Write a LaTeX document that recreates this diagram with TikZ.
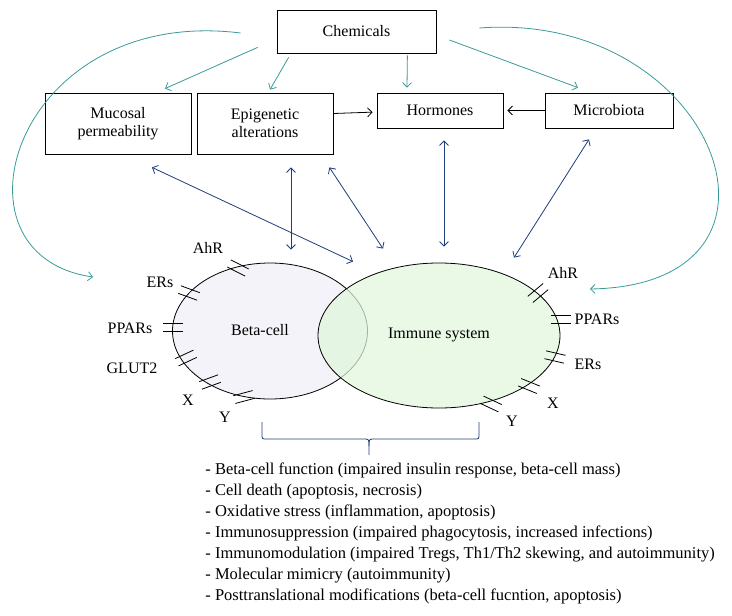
\documentclass[tikz,border=0pt]{standalone}
\usepackage{fontspec}
\setmainfont{Liberation Serif}
\usetikzlibrary{shapes.geometric,arrows.meta}

\definecolor{tealline}{HTML}{3A9A9A}
\definecolor{navyline}{HTML}{1F3D7A}
\definecolor{betafill}{HTML}{F3F3F9}
\definecolor{immfill}{HTML}{E0F7DC}

% two short bars across a cell border: x, y, angle
\newcommand{\receptor}[3]{%
  \draw[shift={(#1,#2)}, rotate=#3] (-10,-4) -- (10,-4) (-10,4) -- (10,4);
}

\begin{document}
\begin{tikzpicture}[x=1pt, y=-1pt, line width=0.8pt,
    font=\fontsize{16}{18}\selectfont,
    >={Straight Barb[length=4.5pt,width=9pt]},
    box/.style={draw, align=center, inner sep=2pt},
    cell/.style={draw, ellipse, inner sep=0pt},
    chemarrow/.style={->, tealline},
    linkarrow/.style={<->, navyline}]
  \useasboundingbox (0,0) rectangle (732,616);

  % Draw the boxes
  \node[box, minimum width=159pt, minimum height=43pt] (chem)  at (356.5,31.5) {Chemicals};
  \node[box, minimum width=146pt, minimum height=61pt] (muc)   at (118,123.5) {Mucosal\\permeability};
  \node[box, minimum width=136pt, minimum height=61pt] (epi)   at (265,123.5) {Epigenetic\\alterations};
  \node[box, minimum width=126pt, minimum height=35pt] (horm)  at (440,110.5) {Hormones};
  \node[box, minimum width=128pt, minimum height=35pt] (micro) at (609,110.5) {Microbiota};

  % Draw the cells
  \node[cell, fill=betafill, minimum width=195pt, minimum height=136pt] (beta) at (270,331) {};
  \node[cell, fill=immfill, fill opacity=0.72, draw opacity=1,
        minimum width=242pt, minimum height=145pt] (imm) at (439,335.5) {};
  \node (betatxt) at (260,330) {Beta-cell};
  \node (immtxt)  at (439,335) {Immune system};

  % Receptors on the beta-cell
  \receptor{238}{268}{-27}
  \receptor{189}{293}{-20}
  \receptor{173}{327}{0}
  \receptor{186}{358}{25}
  \receptor{210}{382}{20}
  \receptor{244}{397}{15}
  \node (bahr)   at (208,248) {AhR};
  \node (bers)   at (160,282) {ERs};
  \node (bppar)  at (130,328) {PPARs};
  \node (bglut)  at (132,368) {GLUT2};
  \node (bx)     at (188,400) {X};
  \node (by)     at (225,417) {Y};

  % Receptors on the immune system
  \receptor{538}{293}{40}
  \receptor{561}{319}{0}
  \receptor{555}{357}{-13}
  \receptor{529}{386}{-22}
  \receptor{491}{404}{-25}
  \node (iahr)   at (563,273) {AhR};
  \node (ippar)  at (597,319) {PPARs};
  \node (iers)   at (588,364) {ERs};
  \node (ix)     at (553,403) {X};
  \node (iy)     at (512,421) {Y};

  % Chemicals act on everything
  \draw[chemarrow] ([shift={(-19,-6)}]chem.south west) -- ([shift={(47,-4)}]muc.north);
  \draw[chemarrow] ([shift={(12,4)}]chem.south west) -- ([shift={(5,-3)}]epi.north);
  \draw[chemarrow] ([shift={(-29,2)}]chem.south east) -- ([shift={(-33,-5)}]horm.north);
  \draw[chemarrow] ([shift={(13,8.5)}]chem.east) -- ([shift={(-31,-5)}]micro.north);
  \draw[chemarrow] ([shift={(-36,1.5)}]chem.west)
      .. controls (15,5) and (-60,255) .. ([shift={(-177,-54)}]beta.center);
  \draw[chemarrow] ([shift={(43,-3.5)}]chem.east)
      .. controls (715,10) and (820,285) .. ([shift={(151,-46.5)}]imm.center);

  % Into the hormones
  \draw[->, shorten >=4pt] ([yshift=10pt]epi.east) -- (horm.west |- 0,112);
  \draw[->, shorten >=4pt] (micro.west) -- (horm.east);

  % Links to the cells
  \draw[linkarrow] ([shift={(34,13)}]muc.south) -- ([shift={(-86,-1)}]imm.north);
  \draw[linkarrow] ([shift={(26,13)}]epi.south) -- ([shift={(21,-13)}]beta.north);
  \draw[linkarrow] ([shift={(-4,13)}]epi.south east) -- ([shift={(-56,-14)}]imm.north);
  \draw[linkarrow] ([shift={(4,12)}]horm.south) -- ([shift={(5,-16)}]imm.north);
  \draw[linkarrow] ([shift={(-20,11)}]micro.south) -- ([shift={(75,-5)}]imm.north);

  % Brace and outcomes
  \draw[navyline] (262,422) -- (262,434) .. controls (262,439) .. (267,439) -- (363,439)
      .. controls (369,439) .. (369,446) -- (369,455);
  \draw[navyline] (479,422) -- (479,434) .. controls (479,439) .. (474,439) -- (375,439)
      .. controls (369,439) .. (369,446);
  \node[anchor=north west, align=left, inner sep=0pt, font=\fontsize{16.5}{21}\selectfont] (effects) at (205,462)
    {- Beta-cell function (impaired insulin response, beta-cell mass)\\
     - Cell death (apoptosis, necrosis)\\
     - Oxidative stress (inflammation, apoptosis)\\
     - Immunosuppression (impaired phagocytosis, increased infections)\\
     - Immunomodulation (impaired Tregs, Th1/Th2 skewing, and autoimmunity)\\
     - Molecular mimicry (autoimmunity)\\
     - Posttranslational modifications (beta-cell fucntion, apoptosis)};
\end{tikzpicture}
\end{document}
